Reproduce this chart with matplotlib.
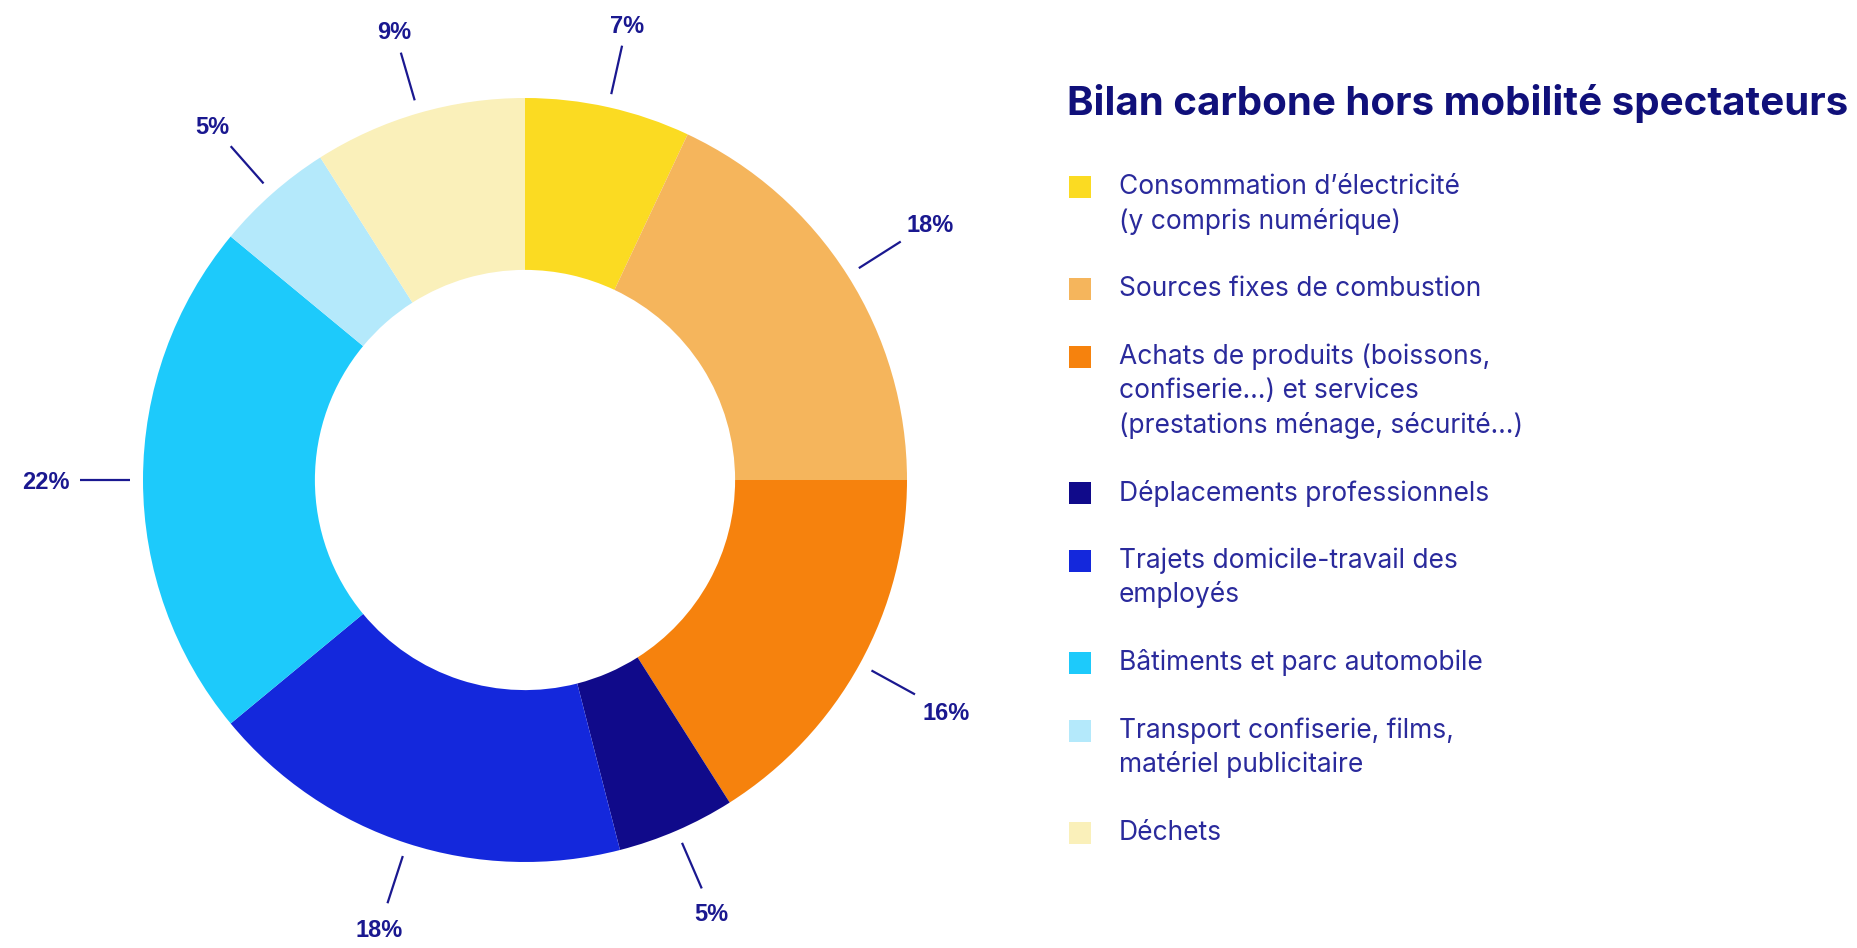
import numpy as np
import matplotlib
matplotlib.use("Agg")
import matplotlib.pyplot as plt
from matplotlib.patches import Rectangle

# data
labels = ["Consommation d\u2019électricité\n(y compris numérique)",
          "Sources fixes de combustion",
          "Achats de produits (boissons,\nconfiserie\u2026) et services\n(prestations ménage, sécurité\u2026)",
          "Déplacements professionnels",
          "Trajets domicile-travail des\nemployés",
          "Bâtiments et parc automobile",
          "Transport confiserie, films,\nmatériel publicitaire",
          "Déchets"]
values = [7, 18, 16, 5, 18, 22, 5, 9]
colors = ["#FBDB22", "#F5B55C", "#F6820D", "#100A8A",
          "#1428DC", "#1DCAFB", "#B4E9FB", "#FAF0BA"]
title = "Bilan carbone hors mobilité spectateurs"

navy = "#1A1890"
W, H = 1858, 948

fig = plt.figure(figsize=(W / 100, H / 100), dpi=100)
ax = fig.add_axes([0, 0, 1, 1])
ax.set_xlim(0, W)
ax.set_ylim(0, H)

cx, cy, R = 525, H - 480, 382
wedges, _ = ax.pie(values, colors=colors, startangle=90, counterclock=False,
                   radius=R, center=(cx, cy),
                   wedgeprops=dict(width=R * 0.45, linewidth=0))
ax.set_xlim(0, W)
ax.set_ylim(0, H)
ax.set_aspect("equal")
ax.axis("off")

# leader lines + percentages
r_in, r_out, gap = 1.035 * R, 1.165 * R, 10
renderer = fig.canvas.get_renderer()
for w, v in zip(wedges, values):
    a = np.deg2rad((w.theta1 + w.theta2) / 2)
    ca, sa = np.cos(a), np.sin(a)
    ax.plot([cx + r_in * ca, cx + r_out * ca],
            [cy + r_in * sa, cy + r_out * sa],
            color=navy, lw=1.6, solid_capstyle="butt")
    t = ax.text(0, 0, f"{v}%", ha="center", va="center_baseline", fontsize=17,
                fontweight="bold", color=navy,
                family=["Liberation Sans", "DejaVu Sans"])
    bb = t.get_window_extent(renderer)
    hw, hh = bb.width / 2, bb.height / 2 * 0.8
    rl = r_out + gap + hw * abs(ca) + hh * abs(sa)
    t.set_position((cx + rl * ca, cy + rl * sa))

# title
ax.text(1067, H - 103, title, ha="left", va="center", fontsize=29,
        fontweight="bold", color="#10107A", family=["Inter", "DejaVu Sans"])

# legend
pitch = 34
y = 187
for lab, c in zip(labels, colors):
    ax.add_patch(Rectangle((1069, H - y - 11), 22, 22, facecolor=c, edgecolor="none"))
    lines = lab.split("\n")
    for i, ln in enumerate(lines):
        ax.text(1119, H - y - i * pitch, ln, ha="left", va="center",
                fontsize=19, color="#2A2A9C", family=["Inter", "DejaVu Sans"])
    y += (len(lines) + 1) * pitch

fig.savefig("out.png", dpi=100, facecolor="white")
